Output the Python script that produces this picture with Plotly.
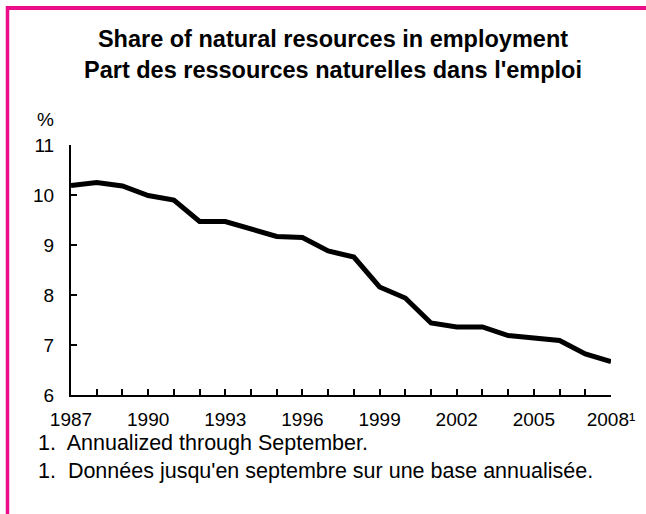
import plotly.graph_objects as go

years = list(range(1987, 2009))
share = [10.19, 10.25, 10.18, 9.99, 9.90, 9.47, 9.47, 9.31, 9.17, 9.15, 8.88, 8.76,
         8.16, 7.94, 7.44, 7.36, 7.36, 7.19, 7.15, 7.09, 6.82, 6.67]
tick_labels = ["1987", "", "", "1990", "", "", "1993", "", "", "1996", "", "", "1999",
               "", "", "2002", "", "", "2005", "", "", "2008¹"]
y_ticks = [6, 7, 8, 9, 10, 11]

title_en = "Share of natural resources in employment"
title_fr = "Part des ressources naturelles dans l'emploi"
note_en = "1.  Annualized through September."
note_fr = "1.  Données jusqu'en septembre sur une base annualisée."

PINK = "#EC0C8C"
FONT = "Liberation Sans, Arial, sans-serif"

W, H = 646, 514
L, R, T, B = 71, 35, 145, 119
PW, PH = W - L - R, H - T - B


def px(x):
    return (x - L) / PW


def py(y):
    return (H - B - y) / PH


fig = go.Figure()
fig.add_trace(go.Scatter(x=years, y=share, mode="lines",
                         line=dict(color="black", width=5), hoverinfo="x+y"))

fig.update_layout(
    width=W, height=H,
    margin=dict(l=L, r=R, t=T, b=B),
    paper_bgcolor="white", plot_bgcolor="white",
    showlegend=False,
    font=dict(family=FONT, size=19, color="black"),
    xaxis=dict(range=[1987, 2008], tickmode="array", tickvals=years, ticktext=tick_labels,
               ticks="inside", ticklen=6, tickwidth=2, tickcolor="black",
               showline=True, linecolor="black", linewidth=2, showgrid=False,
               zeroline=False, ticklabelstandoff=6, tickangle=0),
    yaxis=dict(range=[6, 11], tickmode="array", tickvals=y_ticks,
               ticks="inside", ticklen=6, tickwidth=2, tickcolor="black",
               showline=True, linecolor="black", linewidth=2, showgrid=False,
               zeroline=False, ticklabelstandoff=11),
)

# pink frame (top and left edges)
fig.add_shape(type="line", xref="paper", yref="paper",
              x0=px(6), x1=px(W + 2), y0=py(8), y1=py(8),
              line=dict(color=PINK, width=4))
fig.add_shape(type="line", xref="paper", yref="paper",
              x0=px(7.5), x1=px(7.5), y0=py(6), y1=py(H + 2),
              line=dict(color=PINK, width=3.5))

fig.add_annotation(text="<b>" + title_en + "</b><br><b>" + title_fr + "</b>",
                   xref="paper", yref="paper", x=px(333), y=py(55),
                   xanchor="center", yanchor="middle", showarrow=False,
                   font=dict(size=23.5, family=FONT), align="center")
fig.add_annotation(text="%", xref="paper", yref="paper", x=px(45), y=py(120),
                   xanchor="center", yanchor="middle", showarrow=False, font=dict(size=19))
fig.add_annotation(text=note_en, xref="paper", yref="paper", x=px(36), y=py(443),
                   xanchor="left", yanchor="middle", showarrow=False, font=dict(size=21.5))
fig.add_annotation(text=note_fr, xref="paper", yref="paper", x=px(36), y=py(471),
                   xanchor="left", yanchor="middle", showarrow=False, font=dict(size=21.5))

fig.write_html("out.html", post_script="document.body.style.margin='0';",
               config={"displayModeBar": False})
